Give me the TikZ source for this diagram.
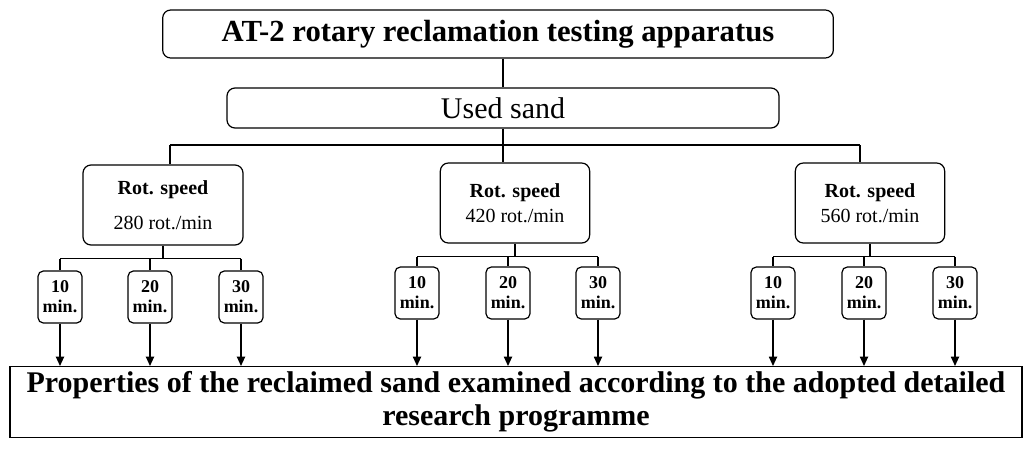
\documentclass[tikz,border=0pt]{standalone}
\usepackage{fontspec}
\setmainfont{Liberation Serif}
\usetikzlibrary{calc,arrows.meta}
\begin{document}
\begin{tikzpicture}[x=0.75pt,y=-0.75pt,
  rbox/.style={draw,rounded corners=6pt,line width=0.9pt,align=center,inner sep=0pt},
  sbox/.style={draw,rounded corners=4pt,line width=0.9pt,align=center,inner sep=0pt,minimum width=33pt,minimum height=39pt,font=\bfseries\fontsize{13.5}{15}\selectfont},
  ln/.style={line width=0.9pt},
  ar/.style={line width=1.3pt,-{Triangle[length=7pt,width=6pt]}}]
\useasboundingbox (0,0) rectangle (1034,451);
\node[rbox,minimum width=503pt,minimum height=36pt,font=\bfseries\fontsize{23}{26}\selectfont] (top) at (498,34) {AT-2 rotary reclamation testing apparatus};
\node[rbox,minimum width=414pt,minimum height=30pt,font=\fontsize{22.5}{24}\selectfont] (used) at (503,108) {Used sand};
\node[rbox,minimum width=120pt,minimum height=60pt,font=\fontsize{15}{22}\selectfont] (r1) at (163,205) {\textbf{Rot. speed}\\[4pt]280 rot./min};
\node[rbox,minimum width=112pt,minimum height=60pt,font=\fontsize{15}{19}\selectfont] (r2) at (515,203) {\textbf{Rot. speed}\\420 rot./min};
\node[rbox,minimum width=112pt,minimum height=60pt,font=\fontsize{15}{19}\selectfont] (r3) at (870,203) {\textbf{Rot. speed}\\560 rot./min};
\node[draw,line width=0.9pt,minimum width=759pt,minimum height=53pt,align=center,font=\bfseries\fontsize{22.5}{25}\selectfont] (bot) at (516,402) {Properties of the reclaimed sand examined according to the adopted detailed\\research programme};
\draw[ln] (top.south -| used.north) -- (used.north);
\coordinate (j0) at (503,145);
\draw[ln] (used.south) -- (j0);
\coordinate (hl) at (170,145); \coordinate (hr) at (860,145);
\draw[ln] (hl) -- (hr);
\draw[ln] (hl) -- (hl |- r1.north);
\draw[ln] (j0) -- (j0 |- r2.north);
\draw[ln] (hr) -- (hr |- r3.north);
\foreach \g/\r/\y/\xa/\xb/\xc in {1/r1/297/60/150/241, 2/r2/293/417/508/598, 3/r3/293/773/864/955}{
  \node[sbox] (a\g) at (\xa,\y) {10\\min.};
  \node[sbox] (b\g) at (\xb,\y) {20\\min.};
  \node[sbox] (c\g) at (\xc,\y) {30\\min.};
  \coordinate (m\g) at ($(\r.south)+(0,13)$);
  \draw[ln] (\r.south) -- (m\g);
  \draw[ln] (m\g -| a\g.north) -- (m\g -| c\g.north);
  \draw[ln] (m\g -| a\g.north) -- (a\g.north);
  \draw[ln] (m\g -| b\g.north) -- (b\g.north);
  \draw[ln] (m\g -| c\g.north) -- (c\g.north);
  \draw[ar] (a\g.south) -- (a\g.south |- bot.north);
  \draw[ar] (b\g.south) -- (b\g.south |- bot.north);
  \draw[ar] (c\g.south) -- (c\g.south |- bot.north);
}
\end{tikzpicture}
\end{document}
